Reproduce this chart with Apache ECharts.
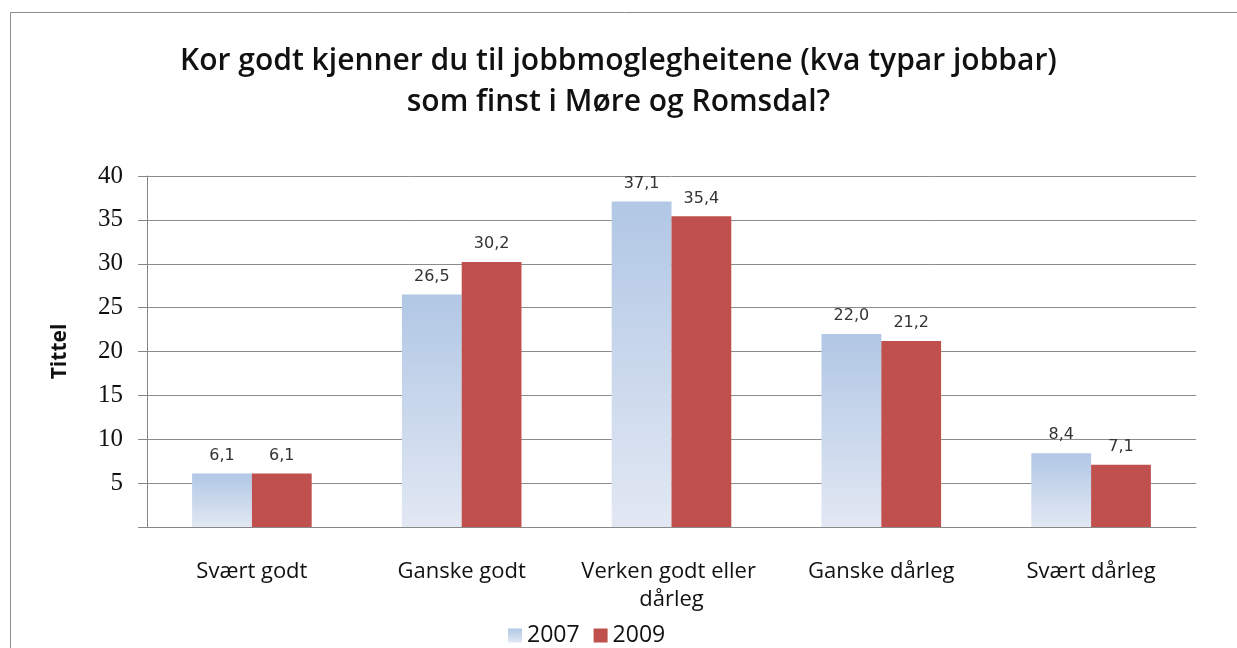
<!DOCTYPE html>
<html>
<head>
<meta charset="utf-8">
<title>Kor godt kjenner du til jobbmoglegheitene</title>
<script src="https://cdn.jsdelivr.net/npm/echarts@6/dist/echarts.min.js"></script>
<style>
  html, body { margin: 0; padding: 0; background: #fff; }
  #main { width: 1237px; height: 648px; }
</style>
</head>
<body>
<div id="main"></div>
<script>
// data
const categories = ['Svært godt', 'Ganske godt', 'Verken godt eller dårleg', 'Ganske dårleg', 'Svært dårleg']
const values2007 = [6.1, 26.5, 37.1, 22.0, 8.4]
const values2009 = [6.1, 30.2, 35.4, 21.2, 7.1]
const yTicks = [0, 5, 10, 15, 20, 25, 30, 35, 40]

const labelFont = "'Open Sans', 'DejaVu Sans', sans-serif"

const myChart = echarts.init(document.getElementById('main'))

// numbers in the picture use a decimal comma
const fmt = (p) => p.value.toFixed(1).replace('.', ',')

myChart.setOption({
  animation: false,
  title: {
    text: 'Kor godt kjenner du til jobbmoglegheitene (kva typar jobbar)\nsom finst i Møre og Romsdal?',
    left: 'center',
    top: 36,
    textStyle: {
      fontFamily: labelFont,
      fontSize: 30,
      fontWeight: 600,
      color: '#111',
      lineHeight: 41
    }
  },
  graphic: [{
    // chart frame (only top and left edges are visible)
    type: 'rect',
    left: 8,
    top: 10,
    shape: { width: 1300, height: 700 },
    style: { fill: 'none', stroke: '#8c8c8c', lineWidth: 1 },
    silent: true
  }],
  legend: {
    left: 503,
    top: 619,
    itemWidth: 14,
    itemHeight: 14,
    itemGap: 14,
    icon: 'rect',
    textStyle: { fontFamily: labelFont, fontSize: 23, color: '#111' },
    data: ['2007', '2009']
  },
  grid: {
    left: 147,
    right: 41,
    top: 176,
    bottom: 121
  },
  xAxis: {
    type: 'category',
    data: categories,
    axisLine: { lineStyle: { color: '#888' } },
    axisTick: { show: false },
    axisLabel: {
      fontFamily: labelFont,
      fontSize: 22,
      color: '#111',
      margin: 31,
      width: 200,
      overflow: 'break',
      lineHeight: 28,
      interval: 0
    }
  },
  yAxis: {
    type: 'value',
    min: yTicks[0],
    max: yTicks[yTicks.length - 1],
    interval: 5,
    name: 'Tittel',
    nameLocation: 'middle',
    nameGap: 76,
    nameTextStyle: { fontFamily: labelFont, fontSize: 21, fontWeight: 'bold', color: '#111' },
    axisLine: { show: true, lineStyle: { color: '#888' } },
    axisTick: { show: true, length: 9, lineStyle: { color: '#888' } },
    splitLine: { lineStyle: { color: '#8c8c8c', width: 1 } },
    axisLabel: {
      fontFamily: "'Liberation Serif', 'DejaVu Serif', serif",
      fontSize: 25,
      color: '#111',
      margin: 24,
      formatter: (v) => (v === 0 ? '' : String(v))
    }
  },
  series: [{
    name: '2007',
    type: 'bar',
    data: values2007,
    barGap: 0,
    barCategoryGap: '43%',
    itemStyle: {
      color: new echarts.graphic.LinearGradient(0, 0, 0, 1, [
        { offset: 0, color: '#b1c7e5' },
        { offset: 1, color: '#e2e8f3' }
      ])
    },
    label: {
      show: true,
      position: 'top',
      distance: 10,
      fontFamily: "'DejaVu Sans', sans-serif",
      fontSize: 16,
      color: '#333',
      formatter: fmt
    }
  }, {
    name: '2009',
    type: 'bar',
    data: values2009,
    barGap: 0,
    barCategoryGap: '43%',
    itemStyle: { color: '#c0504d' },
    label: {
      show: true,
      position: 'top',
      distance: 10,
      fontFamily: "'DejaVu Sans', sans-serif",
      fontSize: 16,
      color: '#333',
      formatter: fmt
    }
  }]
})

window.addEventListener('resize', function() {
  myChart.resize()
})
</script>
</body>
</html>
